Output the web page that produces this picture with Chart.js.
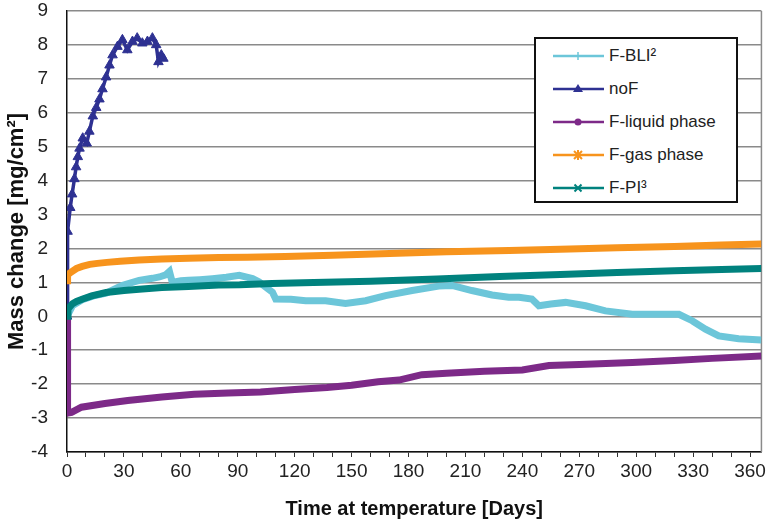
<!DOCTYPE html>
<html>
<head>
<meta charset="utf-8">
<script src="https://cdn.jsdelivr.net/npm/chart.js@4.4.1/dist/chart.umd.min.js"></script>
<style>
  html, body { margin: 0; padding: 0; background: #fff; }
  #wrap { position: relative; width: 769px; height: 521px; }
  #legend {
    position: absolute; left: 534px; top: 37px; width: 200px; height: 162px;
    border: 2px solid #111; background: #fff;
    font-family: "Liberation Sans", Arial, sans-serif; font-size: 17px; color: #222;
  }
  .item { position: absolute; left: 17px; height: 20px; display: flex; align-items: center; }
  .item svg { margin-right: 5px; }
</style>
</head>
<body>
<div id="wrap">
  <canvas id="grafico" width="769" height="521"></canvas>
  <div id="legend"></div>
</div>
<script>
const ctx = document.getElementById("grafico");

// F-BLI²
const bliDays = [0, 3, 8, 14, 20.6, 29, 38, 45, 48.7, 52, 54, 55.5, 60, 64, 70, 76.6, 84, 90.8, 97.8, 101.3, 105, 108.3, 110, 118, 125.8, 136.3, 146.8, 157.4, 167.9, 181.9, 195.9, 202.9, 213.4, 224, 232.8, 238.2, 245, 248.7, 255, 262.8, 273.3, 283.8, 297.9, 311.9, 322.5, 329.5, 336.5, 343.5, 354, 366];
const bliValues = [0, 0.32, 0.49, 0.6, 0.68, 0.91, 1.06, 1.12, 1.16, 1.22, 1.32, 1.0, 1.05, 1.06, 1.08, 1.11, 1.15, 1.21, 1.11, 1.01, 0.85, 0.71, 0.51, 0.5, 0.46, 0.46, 0.38, 0.46, 0.61, 0.76, 0.89, 0.91, 0.76, 0.63, 0.56, 0.56, 0.51, 0.31, 0.36, 0.41, 0.31, 0.16, 0.06, 0.06, 0.06, -0.13, -0.38, -0.58, -0.66, -0.7];

// noF
const noFDays = [0, 0.3, 1.7, 2.7, 3.9, 4.8, 5.7, 6.6, 8.3, 10.4, 11.8, 13.6, 15.4, 17.1, 18.7, 20.6, 22.4, 24, 26.6, 29.2, 31.8, 34.5, 37, 39.7, 42.4, 45, 47, 48.2, 49.7, 50.8];
const noFValues = [0, 2.5, 3.2, 3.6, 4.05, 4.4, 4.7, 4.95, 5.25, 5.1, 5.45, 5.9, 6.15, 6.4, 6.7, 7.05, 7.4, 7.7, 7.95, 8.15, 7.85, 8.1, 8.2, 8.05, 8.1, 8.2, 8.0, 7.5, 7.7, 7.6];

// F-liquid phase
const liqDays = [0, 0.3, 2.4, 7.6, 20, 32, 50, 67, 85, 102, 120, 137, 150, 164, 175, 187, 200, 220, 240, 254, 270, 298, 320, 340, 366];
const liqValues = [0, -2.85, -2.83, -2.68, -2.57, -2.48, -2.38, -2.3, -2.26, -2.23, -2.16, -2.1, -2.03, -1.93, -1.88, -1.72, -1.68, -1.62, -1.58, -1.45, -1.42, -1.36, -1.3, -1.24, -1.17];

// F-gas phase
const gasDays = [0, 0.3, 2, 5, 8, 12, 16, 21, 28, 38, 50, 64, 80, 95, 115, 140, 170, 200, 233, 260, 290, 320, 345, 366];
const gasValues = [1.05, 1.22, 1.3, 1.41, 1.47, 1.53, 1.56, 1.59, 1.62, 1.66, 1.69, 1.71, 1.73, 1.74, 1.76, 1.8, 1.85, 1.9, 1.94, 1.98, 2.02, 2.06, 2.1, 2.13];

// F-PI³
const piDays = [0, 0.5, 2.9, 5, 8.3, 13, 20.6, 30, 38, 50, 64, 80, 91, 108, 130, 160, 195, 228, 260, 290, 320, 345, 366];
const piValues = [0, 0.22, 0.37, 0.44, 0.51, 0.6, 0.7, 0.76, 0.8, 0.85, 0.88, 0.92, 0.93, 0.97, 1.0, 1.03, 1.1, 1.17, 1.23, 1.29, 1.34, 1.38, 1.41];

const xLabels = [0, 30, 60, 90, 120, 150, 180, 210, 240, 270, 300, 330, 360];

const seriesNames = ["F-BLI²", "noF", "F-liquid phase", "F-gas phase", "F-PI³"];
const seriesColors = ["#6cc6d9", "#2e3192", "#7d2a88", "#f7941d", "#00827e"];
const seriesMarkers = ["plus", "triangle", "circle", "star", "cross"];

function pares(dias, valores) {
  return dias.map((d, i) => ({ x: d, y: valores[i] }));
}

const allDays = [bliDays, noFDays, liqDays, gasDays, piDays];
const allValues = [bliValues, noFValues, liqValues, gasValues, piValues];

const datasets = seriesNames.map((nome, i) => {
  const isNoF = nome === "noF";
  return {
    label: nome,
    data: pares(allDays[i], allValues[i]),
    borderColor: seriesColors[i],
    backgroundColor: seriesColors[i],
    borderWidth: isNoF ? 3.5 : 7,
    pointStyle: isNoF ? "triangle" : seriesMarkers[i],
    pointRadius: isNoF ? 5.5 : 0,
    pointBorderWidth: 1,
    tension: 0,
    order: seriesNames.length - i,
  };
});

// borda direita da área do gráfico
const bordaDireita = {
  id: "bordaDireita",
  beforeDatasetsDraw(chart) {
    const a = chart.chartArea;
    const c = chart.ctx;
    c.save();
    c.strokeStyle = "#8a8a8a";
    c.lineWidth = 1.5;
    c.beginPath();
    c.moveTo(a.right, a.top);
    c.lineTo(a.right, a.bottom);
    c.stroke();
    c.restore();
  },
};

new Chart(ctx, {
  type: "line",
  data: { datasets: datasets },
  options: {
    responsive: false,
    animation: false,
    layout: { padding: { top: 4, right: 6, left: 4, bottom: 0 } },
    plugins: {
      legend: { display: false },
      tooltip: { enabled: false },
    },
    scales: {
      x: {
        type: "linear",
        min: 0,
        max: 366,
        afterBuildTicks: (scale) => {
          const t = [];
          for (let v = 0; v <= 360; v += 10) t.push({ value: v });
          scale.ticks = t;
        },
        afterFit: (scale) => {
          scale.height = 69;
        },
        title: {
          display: true,
          text: "Time at temperature [Days]",
          color: "#111",
          font: { family: "'Liberation Sans', Arial", size: 20, weight: "bold" },
          padding: { top: 11, bottom: 0 },
        },
        ticks: {
          autoSkip: false,
          maxRotation: 0,
          color: "#222",
          padding: 3,
          font: { family: "'Liberation Sans', Arial", size: 19 },
          callback: (v) => (xLabels.includes(v) ? String(v) : ""),
        },
        grid: { drawOnChartArea: false, drawTicks: true, tickLength: 5, color: "#333" },
        border: { color: "#111", width: 1.5 },
      },
      y: {
        min: -4,
        max: 9,
        afterFit: (scale) => {
          scale.width = 63;
          scale.paddingTop = 11;
          scale.paddingBottom = 11;
        },
        title: {
          display: true,
          text: "Mass change [mg/cm²]",
          color: "#111",
          font: { family: "'Liberation Sans', Arial", size: 22, weight: "bold" },
          padding: { top: 0, bottom: 1 },
        },
        ticks: {
          stepSize: 1,
          color: "#222",
          padding: 19,
          font: { family: "'Liberation Sans', Arial", size: 19 },
        },
        grid: { color: "#8a8a8a", lineWidth: 1.5, drawTicks: false },
        border: { color: "#111", width: 1.5 },
      },
    },
  },
  plugins: [bordaDireita],
});

// legenda
function icone(cor, marca) {
  let m = "";
  if (marca === "plus") m = `<path d="M25 5 V13 M21 9 H29" stroke="${cor}" stroke-width="1.5"/>`;
  if (marca === "triangle") m = `<polygon points="25,4 30,12 20,12" fill="${cor}"/>`;
  if (marca === "circle") m = `<circle cx="25" cy="9" r="3.5" fill="${cor}"/>`;
  if (marca === "star") m = `<path d="M21 5 L29 13 M29 5 L21 13 M25 4 V14" stroke="${cor}" stroke-width="2"/>`;
  if (marca === "cross") m = `<path d="M21.5 5.5 L28.5 12.5 M28.5 5.5 L21.5 12.5" stroke="${cor}" stroke-width="2"/>`;
  return `<svg width="51" height="18"><line x1="0" y1="9" x2="51" y2="9" stroke="${cor}" stroke-width="2.5"/>${m}</svg>`;
}

const legenda = document.getElementById("legend");
seriesNames.forEach((nome, i) => {
  const el = document.createElement("div");
  el.className = "item";
  el.style.top = (7 + i * 33) + "px";
  el.innerHTML = icone(seriesColors[i], seriesMarkers[i]) + "<span>" + nome + "</span>";
  legenda.appendChild(el);
});
</script>
</body>
</html>
